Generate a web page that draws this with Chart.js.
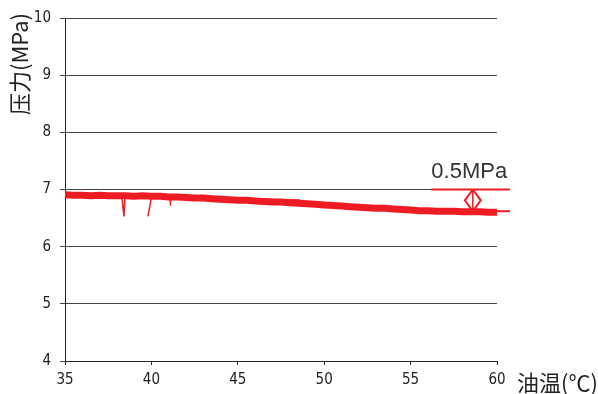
<!DOCTYPE html>
<html>
<head>
<meta charset="utf-8">
<script src="https://cdn.jsdelivr.net/npm/chart.js@4.4.1/dist/chart.umd.min.js"></script>
<style>
  html, body { margin: 0; padding: 0; background: #fff; }
  canvas { display: block; }
</style>
</head>
<body>
<canvas id="oilChart" width="598" height="394"></canvas>
<script>
// oil temperature (°C) and pressure (MPa)
const oilTemp = [35, 35.5, 36, 36.5, 37, 37.5, 38, 38.5, 39, 39.5, 40, 40.5, 41, 41.5, 42, 42.5,
  43, 43.5, 44, 44.5, 45, 45.5, 46, 46.5, 47, 47.5, 48, 48.5, 49, 49.5, 50, 50.5, 51, 51.5,
  52, 52.5, 53, 53.5, 54, 54.5, 55, 55.5, 56, 56.5, 57, 57.5, 58, 58.5, 59, 59.5, 60];
const pressure = [6.91, 6.90, 6.90, 6.89, 6.90, 6.89, 6.89, 6.89, 6.88, 6.89, 6.88, 6.88, 6.87, 6.87,
  6.86, 6.85, 6.85, 6.84, 6.83, 6.82, 6.81, 6.81, 6.80, 6.79, 6.78, 6.78, 6.77, 6.76, 6.75, 6.74,
  6.73, 6.72, 6.71, 6.70, 6.69, 6.68, 6.67, 6.67, 6.66, 6.65, 6.64, 6.63, 6.63, 6.62, 6.62, 6.62,
  6.61, 6.61, 6.61, 6.60, 6.60];

// second trace riding on top of the band
const upperTemp = [43, 44, 45, 46, 47, 48, 48.6];
const upperPressure = [6.87, 6.86, 6.84, 6.83, 6.82, 6.81, 6.81];

// short drops in the trace
const spikeTemp1 = [38.28, 38.41, 38.47];
const spikePressure1 = [6.90, 6.53, 6.89];
const spikeTemp2 = [40.02, 39.80];
const spikePressure2 = [6.89, 6.53];
const spikeTemp3 = [41.08, 41.10];
const spikePressure3 = [6.88, 6.72];

// 0.5MPa bracket
const bracketTemp = [56.2, 60.75];
const bracketHigh = 7.0;
const bracketLow = 6.62;
const diamondTemp = [58.6, 59.06, 58.6, 58.14, 58.6];
const diamondPressure = [7.0, 6.81, 6.62, 6.81, 7.0];
const bracketLabel = '0.5MPa';

const xTicks = [35, 40, 45, 50, 55, 60];
const yTicks = [4, 5, 6, 7, 8, 9, 10];

const RED = '#ed1c24';
const pts = (xs, ys) => xs.map((x, i) => ({ x: x, y: Array.isArray(ys) ? ys[i] : ys }));

function redLine(data, width) {
    return {
        data: data,
        showLine: true,
        borderColor: RED,
        borderWidth: width,
        pointRadius: 0,
        fill: false,
        tension: 0,
        clip: false
    };
}

const axisText = {
    id: 'axisText',
    afterDraw(chart) {
        const c = chart.ctx;
        const xs = chart.scales.x, ys = chart.scales.y;
        c.save();
        c.fillStyle = '#222';
        c.font = '22px "Noto Sans CJK SC", sans-serif';
        // y title, vertical, top-aligned
        c.save();
        c.translate(20, chart.chartArea.top - 5);
        c.rotate(-Math.PI / 2);
        c.textAlign = 'right';
        c.textBaseline = 'middle';
        c.fillText('压力(MPa)', 0, 0);
        c.restore();
        // x title, right of the axis
        c.textAlign = 'left';
        c.textBaseline = 'middle';
        c.fillText('油温(℃)', chart.chartArea.right + 20, chart.chartArea.bottom + 22);
        // bracket label
        c.fillStyle = '#333';
        c.font = '22px "Liberation Sans", Arial, sans-serif';
        c.textBaseline = 'alphabetic';
        c.fillText(bracketLabel, xs.getPixelForValue(bracketTemp[0]), ys.getPixelForValue(bracketHigh) - 12);
        c.restore();
    }
};

const tickFont = { family: '"Liberation Sans Narrow", "DejaVu Sans Condensed", sans-serif', size: 15 };

new Chart(document.getElementById('oilChart'), {
    type: 'scatter',
    data: {
        datasets: [
            redLine(pts(oilTemp, pressure), 7),
            redLine(pts(upperTemp, upperPressure), 2),
            redLine(pts(spikeTemp1, spikePressure1), 1.5),
            redLine(pts(spikeTemp2, spikePressure2), 1.5),
            redLine(pts(spikeTemp3, spikePressure3), 1.5),
            redLine(pts(bracketTemp, bracketHigh), 2),
            redLine(pts(bracketTemp, bracketLow), 2),
            redLine(pts(diamondTemp, diamondPressure), 2),
            redLine(pts([diamondTemp[0], diamondTemp[0]], [bracketHigh, bracketLow]), 1.5)
        ]
    },
    options: {
        responsive: false,
        animation: false,
        devicePixelRatio: 1,
        layout: { padding: { top: 15, right: 101, left: 0, bottom: 0 } },
        plugins: { legend: { display: false }, tooltip: { enabled: false } },
        scales: {
            x: {
                type: 'linear',
                min: 35,
                max: 60,
                afterBuildTicks(s) { s.ticks = xTicks.map(v => ({ value: v })); },
                ticks: { color: '#222', font: tickFont, padding: 6 },
                grid: { drawOnChartArea: false, tickLength: 4, color: '#222' },
                border: { color: '#222', width: 1 },
                afterFit(s) { s.height = 33; }
            },
            y: {
                type: 'linear',
                min: 4,
                max: 10,
                afterBuildTicks(s) { s.ticks = yTicks.map(v => ({ value: v })); },
                ticks: { color: '#222', font: tickFont, padding: 9 },
                grid: { color: '#444', lineWidth: 1, tickLength: 5 },
                border: { color: '#222', width: 1 },
                afterFit(s) { s.width = 65; }
            }
        }
    },
    plugins: [axisText]
});
</script>
</body>
</html>
